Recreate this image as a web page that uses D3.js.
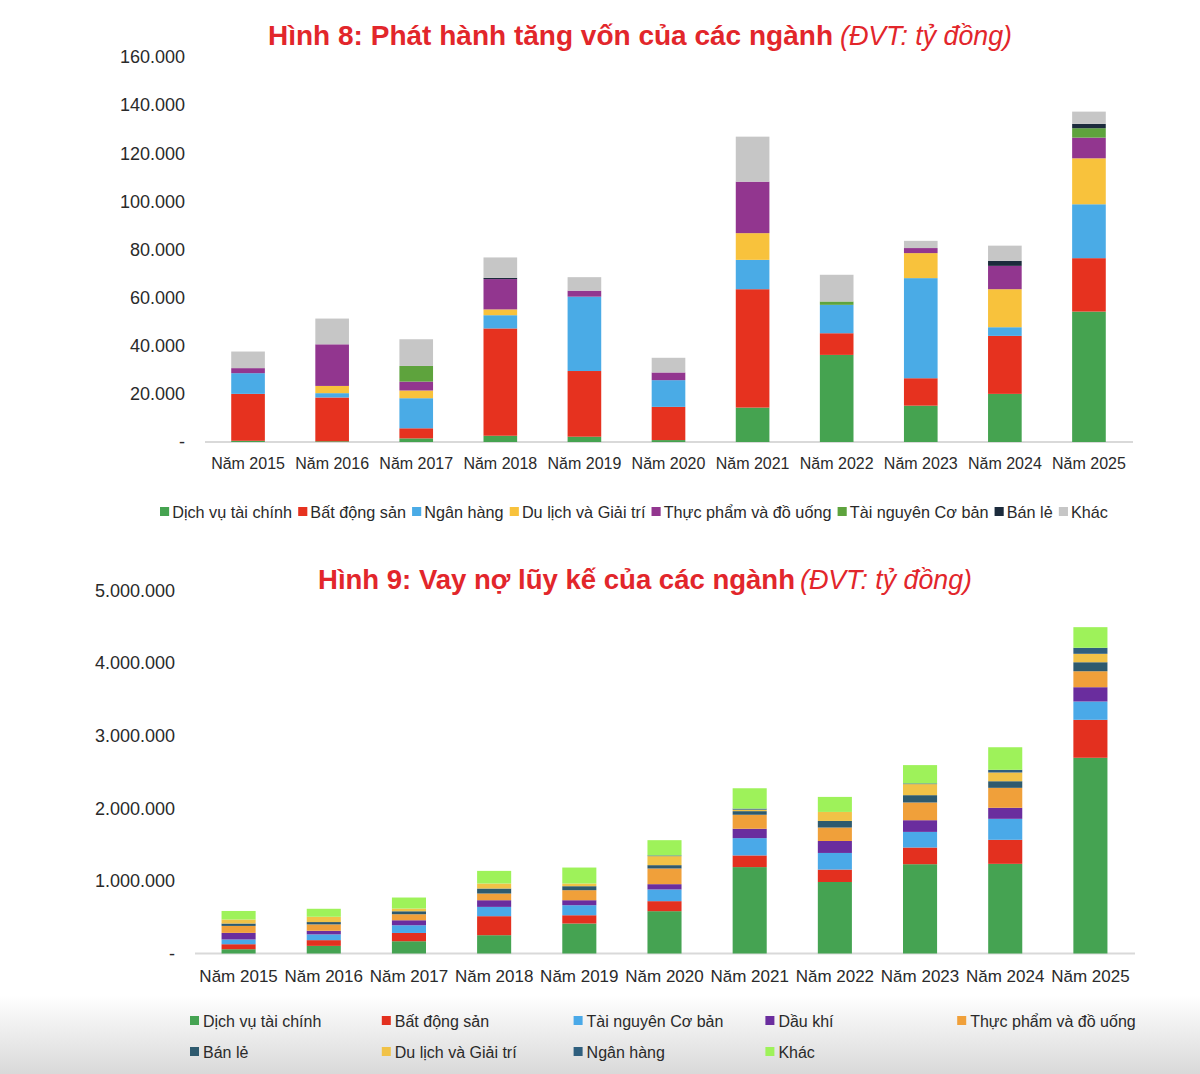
<!DOCTYPE html>
<html>
<head>
<meta charset="utf-8">
<script src="https://cdn.jsdelivr.net/npm/d3@7"></script>
<style>
  body { margin: 0; background: #fff; }
  text { font-family: "Liberation Sans", Arial, sans-serif; }
</style>
</head>
<body>
<script>
// ---- data ----
const years = ["Năm 2015", "Năm 2016", "Năm 2017", "Năm 2018", "Năm 2019", "Năm 2020",
               "Năm 2021", "Năm 2022", "Năm 2023", "Năm 2024", "Năm 2025"];

// Hình 8: phát hành tăng vốn (tỷ đồng)
const capSeries = ["Dịch vụ tài chính", "Bất động sản", "Ngân hàng", "Du lịch và Giải trí",
                   "Thực phẩm và đồ uống", "Tài nguyên Cơ bản", "Bán lẻ", "Khác"];
const capColors = ["#45a350", "#e6321f", "#4aabe6", "#f8c23c", "#92368f", "#5ea33d", "#1c2b3c", "#c6c6c6"];
const capValues = [
  [500, 300, 1500, 2600, 2200, 800, 14300, 36200, 15100, 20000, 54200],        // DV tài chính
  [19500, 18200, 4200, 44600, 27300, 13800, 49200, 9000, 11400, 24100, 22200], // BĐS
  [8600, 1800, 12500, 5500, 30900, 11100, 12200, 11800, 41600, 3600, 22400],   // Ngân hàng
  [0, 3000, 3200, 2400, 0, 0, 11100, 0, 10400, 15800, 19100],                 // Du lịch
  [2100, 17300, 3700, 12600, 2500, 3200, 21400, 0, 2100, 9700, 8600],         // Thực phẩm
  [0, 0, 6500, 0, 0, 0, 0, 1400, 0, 0, 3900],                                 // Tài nguyên
  [0, 0, 0, 500, 0, 0, 0, 0, 0, 2100, 1800],                                  // Bán lẻ
  [6900, 10700, 11100, 8500, 5600, 6100, 18700, 11100, 3000, 6300, 5100]      // Khác
];
const capTicks = [0, 20000, 40000, 60000, 80000, 100000, 120000, 140000, 160000];

// Hình 9: vay nợ lũy kế (tỷ đồng)
const debtSeries = ["Dịch vụ tài chính", "Bất động sản", "Tài nguyên Cơ bản", "Dầu khí",
                    "Thực phẩm và đồ uống", "Bán lẻ", "Du lịch và Giải trí", "Ngân hàng", "Khác"];
const debtColors = ["#45a352", "#e3301f", "#4aa9e8", "#6a2d9e", "#f0a03a", "#2e5a6e", "#f1c247", "#2f5f7e", "#9ef25a"];
const debtValues = [
  [59000, 105000, 169000, 252000, 413000, 583000, 1190000, 985000, 1230000, 1235000, 2696000],
  [69000, 79000, 114000, 262000, 114000, 138000, 161000, 171000, 230000, 331000, 523000],
  [65000, 79000, 106000, 128000, 138000, 161000, 238000, 229000, 215000, 289000, 252000],
  [91000, 50000, 69000, 92000, 69000, 73000, 129000, 165000, 161000, 152000, 197000],
  [96000, 88000, 83000, 92000, 138000, 216000, 193000, 185000, 244000, 275000, 220000],
  [33000, 32000, 41000, 69000, 55000, 46000, 50000, 91000, 101000, 91000, 124000],
  [55000, 73000, 37000, 69000, 37000, 124000, 20000, 124000, 152000, 120000, 116000],
  [0, 0, 0, 0, 0, 10000, 15000, 0, 10000, 37000, 83000],
  [118000, 110000, 152000, 174000, 220000, 210000, 280000, 207000, 252000, 311000, 284000]
];
const debtTicks = [0, 1000000, 2000000, 3000000, 4000000, 5000000];

// ---- helpers ----
const vn = d3.formatLocale({decimal: ",", thousands: ".", grouping: [3], currency: ["", ""]});
const fmt = d => d === 0 ? "-" : vn.format(",")(d);

const W = 1200, H = 1074;
const svg = d3.select("body").append("svg").attr("width", W).attr("height", H);

const defs = svg.append("defs");
const grad = defs.append("linearGradient").attr("id", "fade").attr("x1", 0).attr("y1", 0).attr("x2", 0).attr("y2", 1);
grad.append("stop").attr("offset", "0%").attr("stop-color", "#ffffff");
grad.append("stop").attr("offset", "100%").attr("stop-color", "#d9d9d9");
svg.append("rect").attr("x", 0).attr("y", 995).attr("width", W).attr("height", H - 995).attr("fill", "url(#fade)");

function title(x, y, bold, boldW, italic, italicX, italicW) {
  svg.append("text").attr("x", x).attr("y", y)
    .attr("font-size", 28).attr("font-weight", "bold").attr("fill", "#e2262b")
    .attr("textLength", boldW).attr("lengthAdjust", "spacingAndGlyphs")
    .text(bold);
  svg.append("text").attr("x", italicX).attr("y", y)
    .attr("font-size", 28).attr("font-style", "italic").attr("fill", "#e2262b")
    .attr("textLength", italicW).attr("lengthAdjust", "spacingAndGlyphs")
    .text(italic);
}

function stackedChart(opt) {
  const rows = years.map((y, i) => {
    const r = {year: y};
    opt.series.forEach((s, k) => r[s] = opt.values[k][i]);
    return r;
  });
  const stacked = d3.stack().keys(opt.series)(rows);

  const x = d3.scaleBand().domain(years).range(opt.xr).paddingInner(0.6).paddingOuter(0.3);
  const y = d3.scaleLinear().domain([0, d3.max(opt.ticks)]).range(opt.yr);

  const g = svg.append("g");

  g.append("line")
    .attr("x1", opt.xr[0] - 1).attr("x2", opt.xr[1] + 2)
    .attr("y1", y(0)).attr("y2", y(0))
    .attr("stroke", "#d9d9d9").attr("stroke-width", 2);

  g.selectAll("g.layer")
    .data(stacked)
    .enter()
    .append("g")
    .attr("class", "layer")
    .attr("fill", (d, k) => opt.colors[k])
    .selectAll("rect")
    .data(d => d)
    .enter()
    .append("rect")
    .attr("x", d => x(d.data.year))
    .attr("width", x.bandwidth())
    .attr("y", d => y(d[1]))
    .attr("height", d => y(d[0]) - y(d[1]));

  const yAxis = d3.axisLeft(y).tickValues(opt.ticks).tickFormat(fmt).tickSize(0).tickPadding(opt.pad);
  const ya = g.append("g")
    .attr("transform", "translate(" + opt.xr[0] + ",0)")
    .call(yAxis);
  ya.select(".domain").remove();
  ya.selectAll("text").attr("font-size", 18).attr("fill", "#2a2a2a")
    .attr("font-family", "'Liberation Sans', Arial, sans-serif");

  const xAxis = d3.axisBottom(x).tickSize(0).tickPadding(opt.xpad);
  const xa = g.append("g")
    .attr("transform", "translate(0," + y(0) + ")")
    .call(xAxis);
  xa.select(".domain").remove();
  xa.selectAll("text").attr("font-size", opt.xfont).attr("fill", "#2a2a2a")
    .attr("font-family", "'Liberation Sans', Arial, sans-serif");
}

// ---- Hình 8 ----
title(268, 45, "Hình 8: Phát hành tăng vốn của các ngành", 565, "(ĐVT: tỷ đồng)", 840, 172);
stackedChart({
  series: capSeries, colors: capColors, values: capValues, ticks: capTicks,
  xr: [206, 1131], yr: [442, 57], pad: 21, xpad: 16, xfont: 16
});

// top legend, one row, flowed then fitted to the reference span
const leg1 = svg.append("g").attr("transform", "translate(160,512)");
let lx = 0;
capSeries.forEach((s, k) => {
  const it = leg1.append("g").attr("transform", "translate(" + lx + ",0)");
  it.append("rect").attr("x", 0).attr("y", -5).attr("width", 9).attr("height", 9).attr("fill", capColors[k]);
  const t = it.append("text").attr("x", 12).attr("y", 5.5).attr("font-size", 16).attr("fill", "#2a2a2a").text(s);
  lx += 12 + t.node().getComputedTextLength() + 6;
});
const legW = lx - 6;
leg1.attr("transform", "translate(160,512) scale(" + (948 / legW) + ",1)");

// ---- Hình 9 ----
title(318, 589, "Hình 9: Vay nợ lũy kế của các ngành", 477, "(ĐVT: tỷ đồng)", 800, 172);
stackedChart({
  series: debtSeries, colors: debtColors, values: debtValues, ticks: debtTicks,
  xr: [196, 1133], yr: [953.5, 590.5], pad: 21, xpad: 16, xfont: 17
});

// bottom legend, grid of 5 columns
const leg2 = svg.append("g").attr("transform", "translate(190,1021)");
debtSeries.forEach((s, k) => {
  const col = k % 5, row = Math.floor(k / 5);
  const it = leg2.append("g").attr("transform", "translate(" + (col * 191.8) + "," + (row * 31) + ")");
  it.append("rect").attr("x", 0).attr("y", -5).attr("width", 9).attr("height", 9).attr("fill", debtColors[k]);
  it.append("text").attr("x", 13).attr("y", 5.5).attr("font-size", 16).attr("fill", "#2a2a2a").text(s);
});
</script>
</body>
</html>
